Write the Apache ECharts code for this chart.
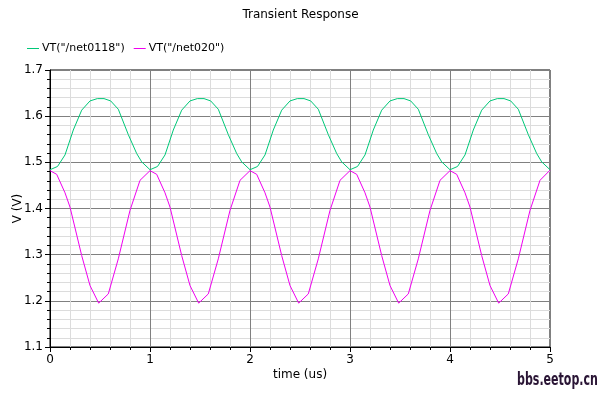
<!DOCTYPE html>
<html>
<head>
<meta charset="utf-8">
<script src="https://cdn.jsdelivr.net/npm/echarts@6/dist/echarts.min.js"></script>
<style>
html,body{margin:0;padding:0;background:#fff;}
#chart{width:601px;height:394px;}
</style>
</head>
<body>
<div id="chart"></div>
<script>
var chartTitle = 'Transient Response';
var seriesNames = ['VT("/net0118")', 'VT("/net020")'];
var xTicks = [0, 1, 2, 3, 4, 5];
var yTicks = [1.1, 1.2, 1.3, 1.4, 1.5, 1.6, 1.7];

var timeNet0118 = [
  0, 0.075, 0.15, 0.233, 0.317, 0.4, 0.473, 0.54, 0.607, 0.683, 0.783, 0.867, 0.917,
  1, 1.075, 1.15, 1.233, 1.317, 1.4, 1.473, 1.54, 1.607, 1.683, 1.783, 1.867, 1.917,
  2, 2.075, 2.15, 2.233, 2.317, 2.4, 2.473, 2.54, 2.607, 2.683, 2.783, 2.867, 2.917,
  3, 3.075, 3.15, 3.233, 3.317, 3.4, 3.473, 3.54, 3.607, 3.683, 3.783, 3.867, 3.917,
  4, 4.075, 4.15, 4.233, 4.317, 4.4, 4.473, 4.54, 4.607, 4.683, 4.783, 4.867, 4.917,
  5
];
var vNet0118 = [
  1.484, 1.491, 1.516, 1.570, 1.613, 1.633, 1.638, 1.638, 1.633, 1.615, 1.560, 1.519, 1.501,
  1.484, 1.491, 1.516, 1.570, 1.613, 1.633, 1.638, 1.638, 1.633, 1.615, 1.560, 1.519, 1.501,
  1.484, 1.491, 1.516, 1.570, 1.613, 1.633, 1.638, 1.638, 1.633, 1.615, 1.560, 1.519, 1.501,
  1.484, 1.491, 1.516, 1.570, 1.613, 1.633, 1.638, 1.638, 1.633, 1.615, 1.560, 1.519, 1.501,
  1.484, 1.491, 1.516, 1.570, 1.613, 1.633, 1.638, 1.638, 1.633, 1.615, 1.560, 1.519, 1.501,
  1.484
];
var timeNet020 = [
  0, 0.067, 0.15, 0.2, 0.317, 0.4, 0.487, 0.583, 0.683, 0.8, 0.9,
  1, 1.067, 1.15, 1.2, 1.317, 1.4, 1.487, 1.583, 1.683, 1.8, 1.9,
  2, 2.067, 2.15, 2.2, 2.317, 2.4, 2.487, 2.583, 2.683, 2.8, 2.9,
  3, 3.067, 3.15, 3.2, 3.317, 3.4, 3.487, 3.583, 3.683, 3.8, 3.9,
  4, 4.067, 4.15, 4.2, 4.317, 4.4, 4.487, 4.583, 4.683, 4.8, 4.9,
  5
];
var vNet020 = [
  1.482, 1.474, 1.434, 1.403, 1.298, 1.233, 1.195, 1.215, 1.291, 1.396, 1.461,
  1.482, 1.474, 1.434, 1.403, 1.298, 1.233, 1.195, 1.215, 1.291, 1.396, 1.461,
  1.482, 1.474, 1.434, 1.403, 1.298, 1.233, 1.195, 1.215, 1.291, 1.396, 1.461,
  1.482, 1.474, 1.434, 1.403, 1.298, 1.233, 1.195, 1.215, 1.291, 1.396, 1.461,
  1.482, 1.474, 1.434, 1.403, 1.298, 1.233, 1.195, 1.215, 1.291, 1.396, 1.461,
  1.483
];

function pairs(xs, ys) {
  var out = [];
  for (var i = 0; i < xs.length; i++) out.push([xs[i], ys[i]]);
  return out;
}

var FONT = 'DejaVu Sans';
var chart = echarts.init(document.getElementById('chart'), null, {renderer: 'canvas'});
chart.setOption({
  animation: false,
  backgroundColor: '#ffffff',
  title: {
    text: chartTitle,
    left: 'center',
    top: 4,
    textStyle: {fontFamily: FONT, fontSize: 12, fontWeight: 'normal', color: '#000'}
  },
  legend: {
    left: 22,
    top: 38,
    icon: 'rect',
    itemWidth: 12,
    itemHeight: 1,
    itemGap: 9,
    textStyle: {fontFamily: FONT, fontSize: 11, color: '#000', padding: [0, 0, 0, -2]},
    data: seriesNames
  },
  grid: {
    left: 50, right: 51, top: 70, bottom: 47,
    containLabel: false,
    outerBoundsMode: 'none',
    show: true, borderColor: '#000', borderWidth: 1, backgroundColor: 'transparent'
  },
  xAxis: {
    type: 'value',
    min: xTicks[0],
    max: xTicks[xTicks.length - 1],
    interval: 1,
    name: 'time (us)',
    nameLocation: 'middle',
    nameGap: 22,
    nameMoveOverlap: false,
    nameTextStyle: {fontFamily: FONT, fontSize: 12, color: '#000'},
    axisLine: {show: true, onZero: false, lineStyle: {color: '#000', width: 1}},
    axisTick: {show: true, inside: false, length: 5, lineStyle: {color: '#000'}},
    minorTick: {show: true, splitNumber: 5, length: 3, lineStyle: {color: '#000'}},
    axisLabel: {fontFamily: FONT, fontSize: 12, color: '#000', margin: 7},
    splitLine: {show: true, lineStyle: {color: '#808080', width: 1}},
    minorSplitLine: {show: true, lineStyle: {color: '#dcdcdc', width: 1}}
  },
  yAxis: {
    type: 'value',
    min: yTicks[0],
    max: yTicks[yTicks.length - 1],
    interval: 0.1,
    name: 'V (V)',
    nameLocation: 'middle',
    nameGap: 26,
    nameMoveOverlap: false,
    nameRotate: 90,
    nameTextStyle: {fontFamily: FONT, fontSize: 12, color: '#000'},
    axisLine: {show: true, lineStyle: {color: '#000', width: 1}},
    axisTick: {show: true, inside: false, length: 5, lineStyle: {color: '#000'}},
    minorTick: {show: true, splitNumber: 5, length: 3, lineStyle: {color: '#000'}},
    axisLabel: {fontFamily: FONT, fontSize: 12, color: '#000', margin: 7,
      formatter: function (v) { return v.toFixed(1); }},
    splitLine: {show: true, lineStyle: {color: '#808080', width: 1}},
    minorSplitLine: {show: true, lineStyle: {color: '#dcdcdc', width: 1}}
  },
  graphic: [{
    type: 'text',
    x: 517,
    y: 381,
    scaleX: 0.65,
    style: {
      text: 'bbs.eetop.cn',
      fill: '#2a1535',
      verticalAlign: 'middle',
      font: 'bold 17px "DejaVu Sans", sans-serif'
    }
  }],
  series: [
    {
      name: seriesNames[0],
      type: 'line',
      symbol: 'none',
      color: '#00c878',
      lineStyle: {width: 1, color: '#00c878'},
      data: pairs(timeNet0118, vNet0118)
    },
    {
      name: seriesNames[1],
      type: 'line',
      symbol: 'none',
      color: '#f000f0',
      lineStyle: {width: 1, color: '#f000f0'},
      data: pairs(timeNet020, vNet020)
    }
  ]
});
</script>
</body>
</html>
